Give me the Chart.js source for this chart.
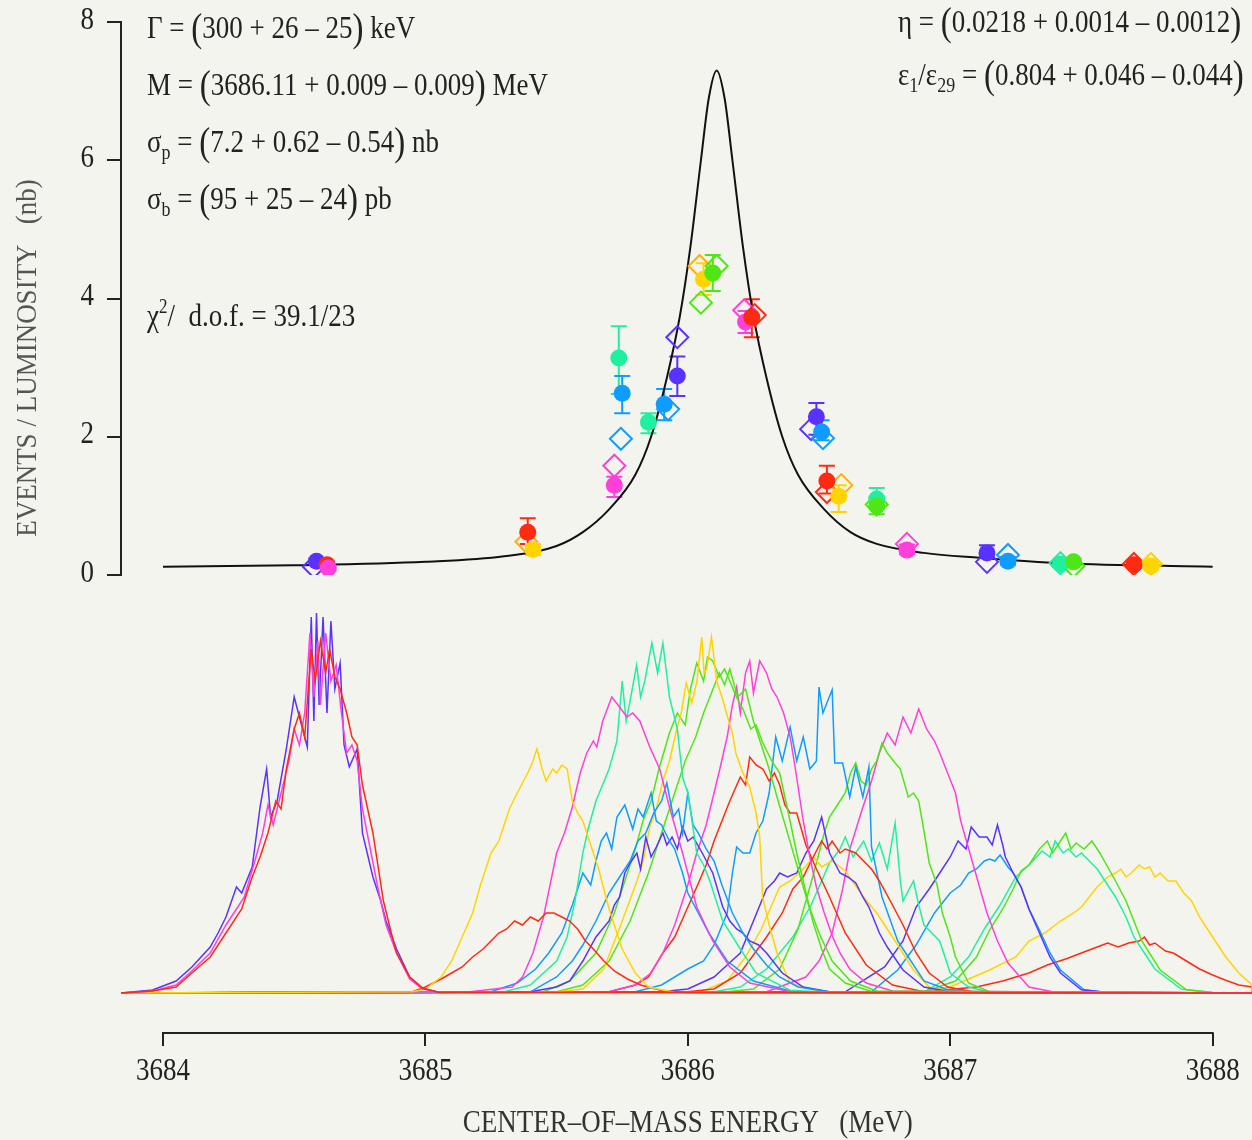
<!DOCTYPE html>
<html>
<head>
<meta charset="utf-8">
<script src="https://cdn.jsdelivr.net/npm/chart.js@4.4.1/dist/chart.umd.min.js"></script>
<style>
  html, body { margin: 0; padding: 0; background: #f4f4ef; }
  #wrap { position: relative; width: 1252px; height: 1140px; }
  #topChart { position: absolute; left: 0; top: 0; }
  #bottomChart { position: absolute; left: 0; top: 600px; }
</style>
</head>
<body>
<div id="wrap">
  <canvas id="topChart" width="1252" height="600"></canvas>
  <canvas id="bottomChart" width="1252" height="540"></canvas>
</div>
<script>
const energyMin = 3683.84;
const energyMax = 3688.15;
const energyTicks = [3684, 3685, 3686, 3687, 3688];
const yieldTicks = [0, 2, 4, 6, 8];

// fitted resonance curve
const fitEnergy = [3684.0, 3684.5, 3685.0, 3685.3, 3685.5, 3685.6, 3685.7, 3685.8, 3685.86, 3685.92, 3685.97,
  3686.01, 3686.05, 3686.08, 3686.11, 3686.14, 3686.17, 3686.21, 3686.25, 3686.30, 3686.36, 3686.42,
  3686.52, 3686.62, 3686.72, 3686.9, 3687.11, 3687.43, 3688.0];
const fitYield = [0.12, 0.14, 0.19, 0.27, 0.42, 0.62, 0.95, 1.45, 2.0, 2.85, 3.75,
  4.75, 6.0, 6.9, 7.3, 6.9, 6.0, 4.75, 3.75, 2.85, 2.0, 1.45,
  0.95, 0.62, 0.45, 0.32, 0.25, 0.17, 0.12];

// filled circles with error bars
const circleEnergy = [3684.585, 3684.625, 3684.63, 3685.39, 3685.41, 3685.72, 3685.737, 3685.75, 3685.85, 3685.91,
  3685.96, 3686.06, 3686.095, 3686.22, 3686.244, 3686.49, 3686.51, 3686.53, 3686.575, 3686.72,
  3686.72, 3686.835, 3687.14, 3687.22, 3687.42, 3687.47, 3687.70, 3687.765];
const circleYield = [0.20, 0.15, 0.10, 0.62, 0.37, 1.30, 3.14, 2.63, 2.21, 2.47,
  2.88, 4.28, 4.37, 3.66, 3.73, 2.29, 2.07, 1.36, 1.14, 1.10,
  1.00, 0.36, 0.32, 0.20, 0.16, 0.19, 0.15, 0.13];
const circleLow = [0.16, 0.11, 0.06, 0.45, 0.29, 1.13, 2.62, 2.34, 2.05, 2.24,
  2.59, 4.05, 4.11, 3.50, 3.44, 2.03, 1.95, 1.18, 0.91, 0.96,
  0.88, 0.30, 0.26, 0.15, 0.12, 0.14, 0.10, 0.08];
const circleHigh = [0.24, 0.19, 0.14, 0.82, 0.45, 1.42, 3.60, 2.88, 2.34, 2.69,
  3.16, 4.51, 4.63, 3.82, 3.99, 2.49, 2.24, 1.58, 1.30, 1.26,
  1.12, 0.44, 0.43, 0.26, 0.20, 0.24, 0.20, 0.18];
const circleRun = ['P', 'R', 'M', 'R', 'Y', 'M', 'A', 'B', 'A', 'B',
  'P', 'Y', 'G', 'M', 'R', 'P', 'B', 'R', 'Y', 'A',
  'G', 'M', 'P', 'B', 'A', 'G', 'R', 'Y'];

// open diamonds
const diamondEnergy = [3684.575, 3685.385, 3685.72, 3685.745, 3685.925, 3685.96, 3686.05, 3686.045, 3686.11, 3686.215,
  3686.255, 3686.47, 3686.515, 3686.53, 3686.585, 3686.72, 3686.835, 3687.14, 3687.22, 3687.42,
  3687.47, 3687.70, 3687.765];
const diamondYield = [0.12, 0.48, 1.58, 1.97, 2.40, 3.44, 3.94, 4.47, 4.47, 3.83,
  3.76, 2.11, 1.98, 1.20, 1.30, 1.02, 0.45, 0.19, 0.29, 0.17,
  0.13, 0.16, 0.16];
const diamondRun = ['P', 'O', 'M', 'B', 'B', 'P', 'G', 'O', 'G', 'M',
  'R', 'P', 'B', 'R', 'O', 'G', 'M', 'P', 'B', 'A',
  'G', 'R', 'Y'];

// beam energy spectra, [energy, counts] pairs
const specRed1 = [[3683.96,0.5],[3684.05,1.5],[3684.11,5],[3684.18,9],[3684.24,15],[3684.3,21],[3684.34,29],[3684.37,34],[3684.4,40],[3684.43,48],[3684.45,46],[3684.47,56],[3684.5,66],[3684.52,70],[3684.54,64],[3684.565,86],[3684.58,78],[3684.6,88],[3684.62,80],[3684.635,86],[3684.655,79],[3684.675,76],[3684.7,70],[3684.72,64],[3684.74,62],[3684.76,52],[3684.8,40],[3684.84,23],[3684.87,15],[3684.89,10],[3684.94,4],[3684.99,1.2],[3685.05,0.2]];
const specMagenta1 = [[3683.96,0.5],[3684.05,2],[3684.11,5.5],[3684.18,10],[3684.24,17],[3684.28,21],[3684.31,24],[3684.35,33],[3684.38,40],[3684.4,47],[3684.42,42],[3684.45,50],[3684.48,58],[3684.5,66],[3684.52,62],[3684.54,70],[3684.56,90],[3684.575,74],[3684.59,88],[3684.6,72],[3684.62,90],[3684.64,78],[3684.66,82],[3684.68,70],[3684.7,60],[3684.72,62],[3684.74,58],[3684.76,46],[3684.79,36],[3684.82,26],[3684.85,17],[3684.89,10],[3684.94,3.5],[3684.99,1],[3685.05,0.2]];
const specPurple1 = [[3683.96,0.75],[3684.05,3],[3684.11,6.5],[3684.18,11.5],[3684.21,15],[3684.24,19],[3684.28,26.5],[3684.3,25],[3684.34,31.5],[3684.37,46.5],[3684.395,56],[3684.41,44],[3684.435,48],[3684.47,61],[3684.5,74],[3684.53,66.5],[3684.55,61.5],[3684.565,94],[3684.575,68],[3684.585,95],[3684.595,72],[3684.61,94],[3684.625,70],[3684.64,93],[3684.655,76],[3684.675,82.5],[3684.69,62],[3684.71,56.5],[3684.74,61],[3684.76,40],[3684.8,29],[3684.83,23],[3684.85,18],[3684.89,11],[3684.94,4],[3684.99,1.2],[3685.05,0.2]];
const specYellow1 = [[3684.95,0.3],[3685.0,1],[3685.06,4],[3685.1,8],[3685.14,14],[3685.18,20],[3685.21,27],[3685.25,35],[3685.28,38],[3685.32,46],[3685.35,50],[3685.39,55],[3685.41,58],[3685.425,61],[3685.445,56],[3685.46,53],[3685.485,56],[3685.5,55],[3685.52,57],[3685.54,56],[3685.56,48],[3685.58,45],[3685.6,43],[3685.62,39],[3685.66,31],[3685.7,21],[3685.75,11],[3685.8,5],[3685.85,1.5],[3685.95,0.2]];
const specRed2 = [[3684.95,0.3],[3685.0,1.5],[3685.06,3.5],[3685.1,5],[3685.14,6.5],[3685.18,9],[3685.22,11],[3685.25,13],[3685.28,15],[3685.31,16],[3685.34,18],[3685.37,17],[3685.4,19],[3685.43,18],[3685.46,20],[3685.49,20],[3685.52,19],[3685.55,18],[3685.58,16],[3685.61,13],[3685.64,11],[3685.68,8],[3685.72,5.5],[3685.77,3.5],[3685.82,2],[3685.9,0.6],[3686.0,0.1]];
const specMagenta2 = [[3685.17,0.3],[3685.33,1.5],[3685.37,4],[3685.41,10],[3685.45,19],[3685.5,35],[3685.53,40],[3685.56,46.5],[3685.59,55],[3685.615,60],[3685.64,63],[3685.653,61.5],[3685.676,68],[3685.71,74],[3685.74,71.5],[3685.768,69],[3685.79,70],[3685.817,68],[3685.855,61.5],[3685.893,56],[3685.93,46.5],[3685.98,35],[3686.034,21.5],[3686.095,13],[3686.16,6.5],[3686.236,2.5],[3686.39,0.3]];
const specAqua1 = [[3685.3,0.3],[3685.4,2],[3685.5,8],[3685.54,14],[3685.57,23],[3685.6,35],[3685.62,41],[3685.65,48],[3685.7,56],[3685.73,63],[3685.75,78],[3685.765,68],[3685.78,73],[3685.805,82],[3685.82,74],[3685.836,78],[3685.863,87.5],[3685.885,80],[3685.905,87.5],[3685.93,74],[3685.945,70],[3685.96,66],[3685.98,54],[3686.0,50],[3686.034,35],[3686.06,32],[3686.084,28],[3686.133,18],[3686.2,11],[3686.26,5],[3686.39,0.7],[3686.55,0.1]];
const specBlue1 = [[3685.25,0.3],[3685.35,2.5],[3685.42,6],[3685.47,10],[3685.52,15],[3685.56,22],[3685.6,30],[3685.63,27],[3685.65,33],[3685.67,38],[3685.69,40],[3685.71,36],[3685.73,44],[3685.76,47],[3685.79,41],[3685.81,46],[3685.83,44],[3685.86,50],[3685.88,43],[3685.9,42],[3685.93,38],[3685.95,36],[3685.98,30],[3686.0,25],[3686.04,20],[3686.08,15],[3686.15,8],[3686.25,3],[3686.4,0.3]];
const specBlue2 = [[3685.4,0.3],[3685.5,4],[3685.56,8],[3685.6,12],[3685.65,18],[3685.7,25],[3685.74,29],[3685.78,33],[3685.81,38],[3685.84,40],[3685.87,45],[3685.9,48],[3685.92,52.5],[3685.945,44],[3685.965,46],[3685.98,40],[3686.0,50],[3686.02,42],[3686.04,40],[3686.07,36],[3686.1,33],[3686.13,27],[3686.17,20],[3686.21,15],[3686.25,11],[3686.3,7],[3686.35,4],[3686.42,1.5],[3686.55,0.2]];
const specPurple2 = [[3685.4,0.3],[3685.5,1.5],[3685.55,3],[3685.6,8],[3685.65,14],[3685.7,18],[3685.72,22],[3685.74,24],[3685.76,30],[3685.78,32.5],[3685.806,35],[3685.82,31],[3685.84,39],[3685.86,34],[3685.88,36.5],[3685.905,40],[3685.92,37],[3685.94,39],[3685.96,36],[3685.98,41.5],[3686.0,38],[3686.02,39],[3686.055,35],[3686.095,30],[3686.133,21.5],[3686.16,18],[3686.186,16],[3686.21,15],[3686.236,13],[3686.27,12],[3686.3,10],[3686.36,5],[3686.44,1.5],[3686.55,0.2]];
const specYellow2 = [[3685.5,0.3],[3685.6,1],[3685.68,6],[3685.75,18],[3685.806,28],[3685.83,33],[3685.855,41.5],[3685.88,46],[3685.905,53],[3685.93,58],[3685.958,66],[3685.975,70],[3685.994,77.5],[3686.015,72.5],[3686.035,78],[3686.053,89],[3686.062,80],[3686.072,81],[3686.09,89],[3686.11,78],[3686.13,74],[3686.156,68],[3686.17,65],[3686.183,60],[3686.21,55],[3686.236,51.5],[3686.26,45],[3686.274,39],[3686.285,24],[3686.31,17],[3686.34,10],[3686.39,2.5],[3686.5,0.3]];
const specGreen1 = [[3685.45,0.3],[3685.55,3],[3685.65,10],[3685.72,20],[3685.77,30],[3685.8,36],[3685.829,43],[3685.86,48],[3685.89,56],[3685.93,65],[3685.96,70],[3685.99,67],[3686.01,76],[3686.034,82.5],[3686.06,78],[3686.075,84],[3686.095,83],[3686.12,79],[3686.14,81],[3686.16,78],[3686.185,74],[3686.21,71],[3686.24,66],[3686.26,67],[3686.286,62.5],[3686.32,58],[3686.35,55],[3686.38,46],[3686.415,35],[3686.44,28],[3686.476,18],[3686.51,11],[3686.54,6],[3686.6,2.5],[3686.7,0.4]];
const specGreen2 = [[3685.5,0.3],[3685.6,2],[3685.7,8],[3685.78,18],[3685.85,30],[3685.9,40],[3685.95,50],[3685.99,58],[3686.03,64],[3686.06,70],[3686.09,75],[3686.12,80],[3686.14,77],[3686.16,81],[3686.19,74],[3686.22,76],[3686.25,68],[3686.28,62],[3686.31,56],[3686.34,49],[3686.38,40],[3686.42,31],[3686.46,22],[3686.5,15],[3686.55,8],[3686.62,3],[3686.72,0.5]];
const specMagenta3 = [[3685.7,0.3],[3685.8,2],[3685.86,5],[3685.905,10],[3685.95,17],[3686.0,27],[3686.034,35],[3686.07,42],[3686.1,50],[3686.122,56],[3686.15,64],[3686.17,72],[3686.186,76.5],[3686.2,70],[3686.22,80],[3686.236,83],[3686.25,75],[3686.274,83],[3686.3,80],[3686.32,76],[3686.34,74],[3686.365,70],[3686.39,64],[3686.41,56],[3686.44,43],[3686.465,34],[3686.49,26.5],[3686.52,20],[3686.552,14],[3686.58,10],[3686.617,6],[3686.68,2.5],[3686.78,0.5]];
const specRed3 = [[3685.7,0.3],[3685.8,2],[3685.85,4],[3685.905,10],[3685.95,14],[3685.99,20],[3686.034,26.5],[3686.07,32],[3686.1,38],[3686.13,43],[3686.16,48],[3686.2,54],[3686.22,52],[3686.236,59],[3686.26,57],[3686.286,56],[3686.31,53],[3686.33,55],[3686.35,52],[3686.37,47],[3686.39,45],[3686.415,45],[3686.45,37],[3686.49,31],[3686.54,24],[3686.6,15],[3686.68,7],[3686.78,2],[3686.9,0.3]];
const specRed4 = [[3686.0,0.3],[3686.1,1],[3686.2,5],[3686.3,14],[3686.36,20],[3686.4,26],[3686.44,29],[3686.47,33],[3686.51,38],[3686.53,36],[3686.55,38],[3686.58,35],[3686.6,36],[3686.64,35],[3686.67,33],[3686.7,31],[3686.73,28],[3686.78,22],[3686.82,17],[3686.87,10],[3686.92,5],[3686.99,1.5],[3687.1,0.2]];
const specBlue3 = [[3685.8,0.3],[3685.9,2],[3686.0,6],[3686.06,8],[3686.1,12],[3686.15,20],[3686.17,30],[3686.186,36.5],[3686.21,35],[3686.236,35],[3686.26,40],[3686.286,43],[3686.31,50],[3686.335,64],[3686.36,58],[3686.39,66.5],[3686.415,58],[3686.44,64],[3686.465,56],[3686.49,58],[3686.5,76.5],[3686.515,70],[3686.53,72.5],[3686.55,75.8],[3686.56,57.5],[3686.59,57.5],[3686.617,49],[3686.64,56.5],[3686.667,49],[3686.69,56.5],[3686.70,36.5],[3686.74,24],[3686.8,13],[3686.9,3],[3686.99,0.8],[3687.1,0.1]];
const specPurple3 = [[3685.9,0.3],[3686.0,1],[3686.1,4],[3686.15,7],[3686.2,10],[3686.25,18],[3686.3,26],[3686.33,28],[3686.35,30],[3686.38,29],[3686.415,30],[3686.45,35],[3686.48,38],[3686.51,44],[3686.54,35],[3686.58,30],[3686.61,29],[3686.64,27.5],[3686.667,24],[3686.69,21.5],[3686.73,15],[3686.76,11.5],[3686.82,5.75],[3686.9,1.5],[3687.0,0.3]];
const specYellow3 = [[3686.05,0.3],[3686.15,3],[3686.22,9],[3686.28,16],[3686.35,26.5],[3686.39,28],[3686.44,31],[3686.48,34],[3686.51,31.5],[3686.55,33],[3686.6,30.5],[3686.67,24],[3686.72,20],[3686.76,16],[3686.81,11],[3686.86,5.75],[3686.92,1.5],[3687.02,0.2]];
const specGreen3 = [[3686.15,0.3],[3686.25,1],[3686.35,6],[3686.42,16],[3686.48,30],[3686.52,40],[3686.54,44],[3686.57,47],[3686.6,50],[3686.62,55],[3686.64,57.5],[3686.66,53],[3686.68,52],[3686.7,56],[3686.72,58],[3686.74,62.5],[3686.76,60],[3686.79,57.5],[3686.81,56],[3686.84,49],[3686.86,50],[3686.88,48],[3686.9,40.5],[3686.92,32.5],[3686.95,27],[3686.97,20],[3687.0,14],[3687.02,9],[3687.07,2.5],[3687.15,0.3]];
const specAqua2 = [[3686.1,0.3],[3686.2,1.5],[3686.3,6],[3686.4,14],[3686.47,22],[3686.54,32.5],[3686.58,36],[3686.6,39],[3686.63,34],[3686.67,38],[3686.7,33],[3686.73,37.5],[3686.76,31],[3686.79,42.5],[3686.81,28],[3686.82,23],[3686.86,28],[3686.88,22],[3686.9,17],[3686.93,15],[3686.96,13],[3687.0,5],[3687.07,1.5],[3687.15,0.2]];
const specMagenta4 = [[3686.3,0.3],[3686.45,4],[3686.5,8],[3686.55,15],[3686.59,26],[3686.62,36.5],[3686.66,45],[3686.7,53],[3686.73,60],[3686.76,65],[3686.79,62],[3686.82,69],[3686.85,65],[3686.88,71],[3686.91,66],[3686.94,63],[3686.96,60],[3686.99,55],[3687.02,50],[3687.04,43],[3687.09,31.5],[3687.14,20],[3687.18,13],[3687.22,7.5],[3687.3,1.5],[3687.4,0.2]];
const specPurple4 = [[3686.6,0.3],[3686.75,6.5],[3686.82,13],[3686.87,21.5],[3686.92,26],[3686.97,31],[3687.0,34],[3687.03,38],[3687.06,36],[3687.08,41.5],[3687.11,39],[3687.14,39],[3687.16,37],[3687.18,42],[3687.2,37],[3687.21,34],[3687.24,30],[3687.27,26.5],[3687.3,21],[3687.34,15],[3687.38,9],[3687.42,5],[3687.5,0.8],[3687.6,0.1]];
const specBlue4 = [[3686.7,0.3],[3686.8,5.75],[3686.87,12],[3686.94,20],[3687.0,25],[3687.04,27],[3687.07,30],[3687.1,31],[3687.13,33],[3687.15,33.5],[3687.17,33],[3687.19,34.5],[3687.22,31.5],[3687.24,30],[3687.27,26.5],[3687.3,21],[3687.34,15.75],[3687.38,10],[3687.42,5.75],[3687.51,0.8],[3687.6,0.1]];
const specGreen4 = [[3686.9,0.3],[3687.02,3],[3687.1,9],[3687.15,15.75],[3687.2,21],[3687.24,26],[3687.27,30.5],[3687.3,32],[3687.34,36],[3687.37,38],[3687.39,35],[3687.41,37],[3687.44,40],[3687.46,36],[3687.48,37.5],[3687.51,36],[3687.54,38],[3687.57,35],[3687.6,31.5],[3687.63,28],[3687.67,23],[3687.7,18],[3687.73,13],[3687.8,5.75],[3687.9,0.8],[3688.0,0.1]];
const specAqua3 = [[3686.9,0.3],[3687.0,4],[3687.07,9],[3687.13,16],[3687.19,22],[3687.25,29],[3687.3,32],[3687.35,35.5],[3687.38,34],[3687.4,38],[3687.43,35],[3687.45,36],[3687.48,34],[3687.5,35],[3687.53,33],[3687.56,31],[3687.6,27],[3687.63,24],[3687.67,19],[3687.7,14],[3687.74,10],[3687.78,6],[3687.88,1],[3688.0,0.1]];
const specYellow4 = [[3686.9,0.3],[3687.0,1.5],[3687.15,5.75],[3687.25,9],[3687.3,13],[3687.36,15],[3687.42,18],[3687.47,20],[3687.5,21.5],[3687.53,24],[3687.56,26.5],[3687.6,29],[3687.63,30],[3687.65,31],[3687.67,29],[3687.69,30],[3687.72,32],[3687.74,31],[3687.76,31.5],[3687.78,29],[3687.8,30],[3687.83,28],[3687.86,28],[3687.89,25],[3687.92,23],[3687.95,19],[3687.98,16],[3688.02,12],[3688.05,9],[3688.1,5],[3688.15,2]];
const specRed5 = [[3686.9,0.3],[3687.1,1.5],[3687.2,3],[3687.3,5],[3687.37,7],[3687.44,8.5],[3687.5,10],[3687.56,11.5],[3687.6,12.5],[3687.64,11.5],[3687.68,12.5],[3687.72,13],[3687.74,14],[3687.76,12],[3687.78,12.5],[3687.82,10.5],[3687.85,10],[3687.9,8],[3687.95,6],[3688.0,4.5],[3688.05,3.2],[3688.1,2],[3688.15,1.5]];

const spectra = [
  ['R', specRed1], ['M', specMagenta1], ['P', specPurple1],
  ['Y', specYellow1], ['R', specRed2], ['M', specMagenta2], ['A', specAqua1],
  ['B', specBlue1], ['B', specBlue2], ['P', specPurple2], ['Y', specYellow2],
  ['G', specGreen1], ['G', specGreen2], ['M', specMagenta3], ['R', specRed3],
  ['R', specRed4], ['B', specBlue3], ['P', specPurple3], ['Y', specYellow3],
  ['G', specGreen3], ['A', specAqua2], ['M', specMagenta4], ['P', specPurple4],
  ['B', specBlue4], ['G', specGreen4], ['A', specAqua3], ['Y', specYellow4], ['R', specRed5]
];

const fitTextLeft = [
  [['Γ = '], ['(', 'paren'], ['300 + 26 – 25'], [')', 'paren'], [' keV']],
  [['M = '], ['(', 'paren'], ['3686.11 + 0.009 – 0.009'], [')', 'paren'], [' MeV']],
  [['σ'], ['p', 'sub'], [' = '], ['(', 'paren'], ['7.2 + 0.62 – 0.54'], [')', 'paren'], [' nb']],
  [['σ'], ['b', 'sub'], [' = '], ['(', 'paren'], ['95 + 25 – 24'], [')', 'paren'], [' pb']]
];
const fitTextChi = [['χ'], ['2', 'sup'], ['/  d.o.f. = 39.1/23']];
const fitTextRight = [
  [['η = '], ['(', 'paren'], ['0.0218 + 0.0014 – 0.0012'], [')', 'paren']],
  [['ε'], ['1', 'sub'], ['/ε'], ['29', 'sub'], [' = '], ['(', 'paren'], ['0.804 + 0.046 – 0.044'], [')', 'paren']]
];

const runColors = {
  R: '#ff2a12', Y: '#ffd400', O: '#ffb000', G: '#4fe616', A: '#1ff0a0',
  B: '#0f9cff', P: '#5a32ff', M: '#ff3fd9'
};
const ink = '#222';
const serif = '"Liberation Serif", "Times New Roman", serif';
const stretch = 1.2;   // the original lettering is tall and narrow

Chart.defaults.font.family = serif;
Chart.defaults.color = ink;

function tallText(ctx, txt, x, y, size) {
  ctx.save();
  ctx.translate(x, y);
  ctx.scale(1, stretch);
  ctx.font = size + 'px ' + serif;
  ctx.fillText(txt, 0, 0);
  ctx.restore();
}

function richText(ctx, x, y, parts) {
  let cx = x;
  parts.forEach(([txt, kind]) => {
    let size = 27, dy = 0;
    if (kind === 'sub') { size = 18; dy = 7; }
    if (kind === 'sup') { size = 17; dy = -13; }
    if (kind === 'paren') { size = 33; dy = 3; }
    tallText(ctx, txt, cx, y + dy, size);
    ctx.font = size + 'px ' + serif;
    cx += ctx.measureText(txt).width;
  });
}

const annotations = {
  id: 'annotations',
  afterDraw(chart) {
    const { ctx, chartArea, scales: { y } } = chart;
    ctx.save();
    ctx.fillStyle = ink;
    ctx.textBaseline = 'alphabetic';
    ctx.textAlign = 'left';
    const lx = chartArea.left + 26;
    fitTextLeft.forEach((parts, i) => richText(ctx, lx, 38 + i * 57, parts));
    richText(ctx, lx, 326, fitTextChi);
    const rx = chartArea.right - 354;
    fitTextRight.forEach((parts, i) => richText(ctx, rx, 32 + i * 53, parts));
    // tick labels
    ctx.textAlign = 'right';
    ctx.textBaseline = 'middle';
    yieldTicks.forEach(v => tallText(ctx, String(v), chartArea.left - 27, y.getPixelForValue(v) - 2, 27));
    // y axis title
    ctx.translate(28, 358);
    ctx.rotate(-Math.PI / 2);
    ctx.textAlign = 'center';
    ctx.fillStyle = '#555';
    ctx.font = '27px ' + serif;
    ctx.scale(1, 1.12);
    ctx.fillText('EVENTS / LUMINOSITY   (nb)', 0, 0);
    ctx.restore();
  }
};

const errorBars = {
  id: 'errorBars',
  beforeDatasetsDraw(chart) {
    const { ctx, scales: { x, y } } = chart;
    ctx.save();
    ctx.lineWidth = 2;
    circleEnergy.forEach((e, i) => {
      const px = x.getPixelForValue(e);
      const y1 = y.getPixelForValue(circleLow[i]);
      const y2 = y.getPixelForValue(circleHigh[i]);
      ctx.strokeStyle = runColors[circleRun[i]];
      ctx.beginPath();
      ctx.moveTo(px, y1); ctx.lineTo(px, y2);
      ctx.moveTo(px - 8, y1); ctx.lineTo(px + 8, y1);
      ctx.moveTo(px - 8, y2); ctx.lineTo(px + 8, y2);
      ctx.stroke();
    });
    ctx.restore();
  }
};

const energyAxis = {
  id: 'energyAxis',
  afterDraw(chart) {
    const { ctx, chartArea, scales: { x } } = chart;
    ctx.save();
    ctx.strokeStyle = ink;
    ctx.lineWidth = 2;
    ctx.beginPath();
    ctx.moveTo(x.getPixelForValue(energyTicks[0]) - 1, chartArea.bottom);
    ctx.lineTo(x.getPixelForValue(energyTicks[energyTicks.length - 1]) + 1, chartArea.bottom);
    ctx.stroke();
    ctx.fillStyle = ink;
    ctx.textAlign = 'center';
    ctx.textBaseline = 'middle';
    energyTicks.forEach(v => tallText(ctx, String(v), x.getPixelForValue(v), chartArea.bottom + 38, 27));
    ctx.fillStyle = '#333';
    tallText(ctx, 'CENTER–OF–MASS ENERGY   (MeV)', (x.getPixelForValue(energyTicks[0]) + x.getPixelForValue(energyTicks[4])) / 2, chartArea.bottom + 90, 27);
    ctx.restore();
  }
};

// top panel: cross section
new Chart(document.getElementById('topChart'), {
  type: 'scatter',
  data: {
    datasets: [
      {
        data: circleEnergy.map((e, i) => ({ x: e, y: circleYield[i] })),
        pointStyle: 'circle',
        pointRadius: 8.5,
        pointBackgroundColor: circleRun.map(r => runColors[r]),
        pointBorderColor: circleRun.map(r => runColors[r]),
        pointBorderWidth: 0,
        order: 1
      },
      {
        data: diamondEnergy.map((e, i) => ({ x: e, y: diamondYield[i] })),
        pointStyle: 'rectRot',
        pointRadius: 11,
        pointBackgroundColor: 'rgba(0,0,0,0)',
        pointBorderColor: diamondRun.map(r => runColors[r]),
        pointBorderWidth: 2,
        order: 2
      },
      {
        data: fitEnergy.map((e, i) => ({ x: e, y: fitYield[i] })),
        showLine: true,
        borderColor: '#111',
        borderWidth: 2,
        pointRadius: 0,
        cubicInterpolationMode: 'monotone',
        order: 3
      }
    ]
  },
  options: {
    responsive: false,
    animation: false,
    events: [],
    layout: { autoPadding: false, padding: { top: 22, bottom: 25, left: 0, right: 0 } },
    plugins: { legend: { display: false }, tooltip: { enabled: false } },
    scales: {
      x: { type: 'linear', min: energyMin, max: energyMax, display: false },
      y: {
        min: 0, max: 8,
        afterBuildTicks: s => { s.ticks = yieldTicks.map(v => ({ value: v })); },
        afterFit: s => { s.width = 121; },
        border: { display: true, color: ink, width: 2 },
        grid: { drawOnChartArea: false, tickLength: 14, color: ink, lineWidth: 2 },
        ticks: { display: false }
      }
    }
  },
  plugins: [errorBars, annotations]
});

// bottom panel: energy spectra of the runs
const spectrumSets = spectra.map(([run, pts]) => ({
  data: [{ x: energyMin, y: 0 }].concat(pts.map(p => ({ x: p[0], y: p[1] })), [{ x: energyMax, y: 0 }]),
  showLine: true,
  borderColor: runColors[run],
  borderWidth: 1.5,
  pointRadius: 0,
  tension: 0
}));

new Chart(document.getElementById('bottomChart'), {
  type: 'scatter',
  data: { datasets: spectrumSets },
  options: {
    responsive: false,
    animation: false,
    events: [],
    layout: { autoPadding: false, padding: { top: 5, bottom: 0, left: 121, right: 0 } },
    plugins: { legend: { display: false }, tooltip: { enabled: false } },
    scales: {
      x: {
        type: 'linear', min: energyMin, max: energyMax,
        afterBuildTicks: s => { s.ticks = energyTicks.map(v => ({ value: v })); },
        afterFit: s => { s.height = 107; },
        border: { display: false },
        grid: { drawOnChartArea: false, drawTicks: true, tickLength: 13, color: ink, lineWidth: 2 },
        ticks: { display: false }
      },
      y: { min: -10, max: 97, display: false }
    }
  },
  plugins: [energyAxis]
});
</script>
</body>
</html>
